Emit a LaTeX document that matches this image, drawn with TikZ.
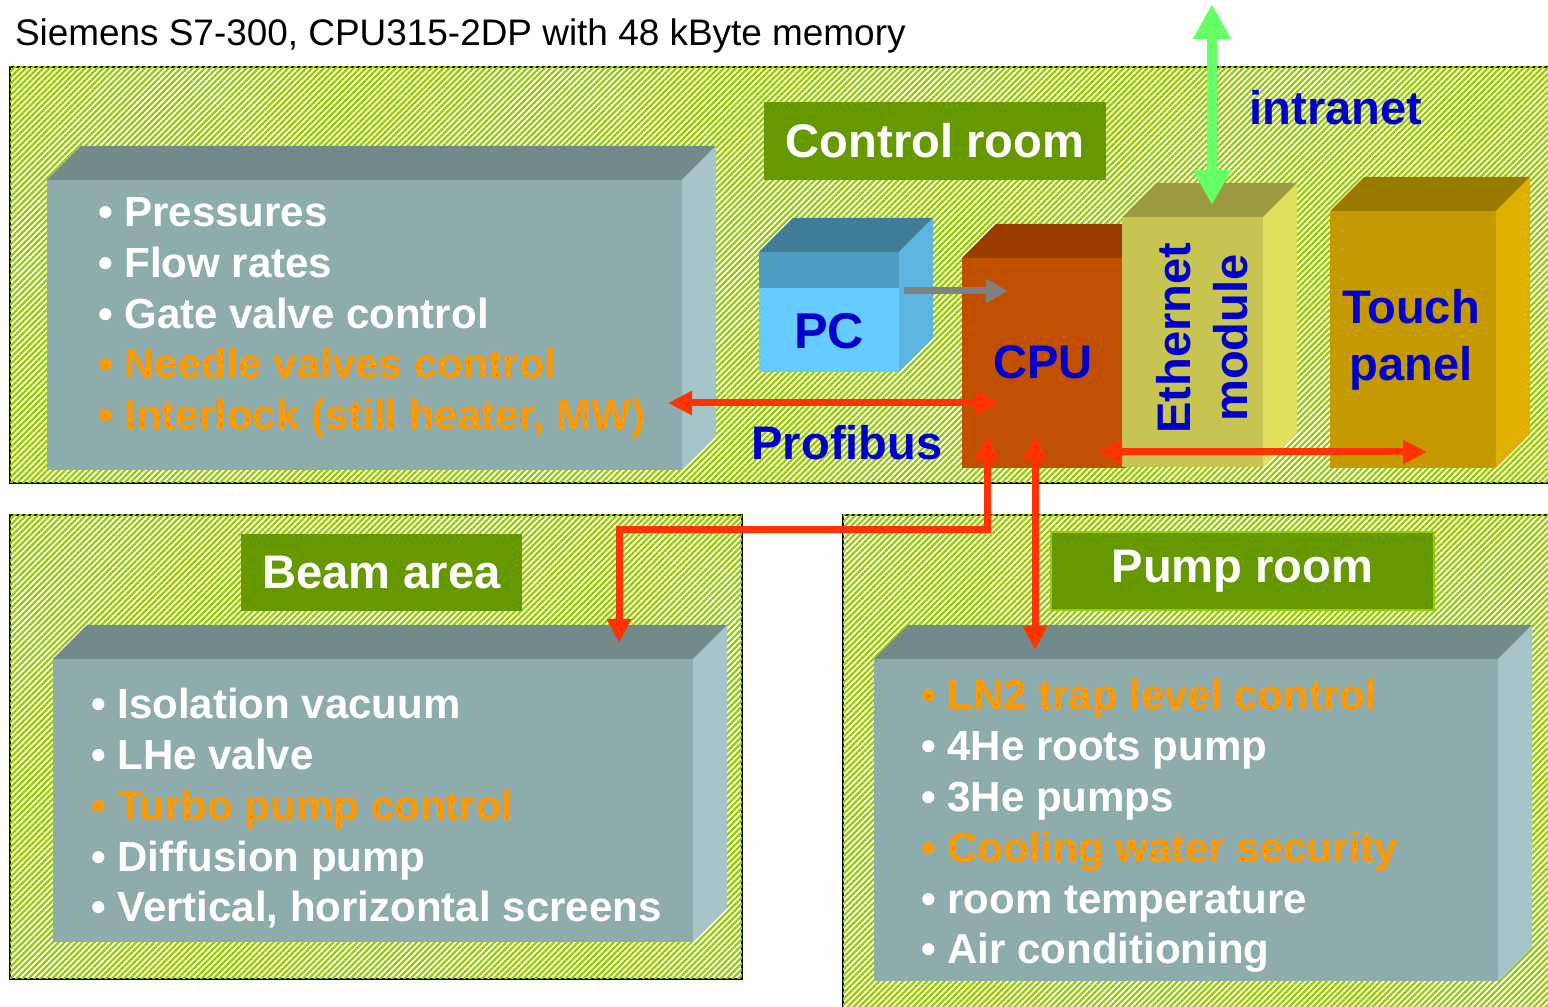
\documentclass[tikz,border=0pt]{standalone}
\usepackage{fontspec}
\setmainfont{Liberation Sans}
\usetikzlibrary{arrows.meta,positioning,fit,patterns.meta,calc}
\definecolor{hatch}{HTML}{99CC00}
\definecolor{tagbg}{HTML}{669900}
\definecolor{slatefront}{HTML}{8FACAC}
\definecolor{slatetop}{HTML}{738A8A}
\definecolor{slateside}{HTML}{A6C5C8}
\definecolor{pcfront}{HTML}{66CCFF}
\definecolor{pcband}{HTML}{4F9CC1}
\definecolor{pctop}{HTML}{3F7C97}
\definecolor{pcside}{HTML}{5CB4E0}
\definecolor{cpufront}{HTML}{C05000}
\definecolor{cputop}{HTML}{993D00}
\definecolor{ethfront}{HTML}{C8C452}
\definecolor{ethtop}{HTML}{9C9A40}
\definecolor{ethside}{HTML}{E0E05C}
\definecolor{tpfront}{HTML}{C49A00}
\definecolor{tptop}{HTML}{9A7A00}
\definecolor{tpside}{HTML}{E0B000}
\definecolor{labelblue}{HTML}{0000CC}
\definecolor{warnorange}{HTML}{FF9900}
\definecolor{busred}{HTML}{FF3300}
\definecolor{netgreen}{HTML}{66FF66}
\definecolor{linkgray}{HTML}{808080}
\newcommand{\bigfont}{\fontsize{13.4}{16.2}\selectfont\bfseries}
\newcommand{\itemfont}{\fontsize{11.95}{14.5}\selectfont\bfseries}
\newcommand{\bul}{\textbullet\ }
% top and right faces of a box whose front face is the node #1
\newcommand{\boxsides}[3]{%
  \fill[#2] (#1.north west) -- ++(34,-34) -- ([shift={(34,-34)}]#1.north east) -- (#1.north east) -- cycle;
  \fill[#3] (#1.north east) -- ++(34,-34) -- ([shift={(34,-34)}]#1.south east) -- (#1.south east) -- cycle;
}
\tikzset{
  every node/.style={inner sep=0pt, outer sep=0pt},
  room/.style={draw=black, line width=0.02cm, fill=white,
               postaction={pattern={Lines[angle=45,distance=1.2pt,line width=0.65pt]}, pattern color=hatch}},
  tag/.style={fill=tagbg},
  tagtxt/.style={text=white, font=\bigfont},
  face/.style={inner sep=0pt},
  items/.style={text=white, font=\itemfont, align=left, anchor=base west},
  bluetxt/.style={text=labelblue, font=\bigfont, align=center},
  busarr/.style={{Triangle[length=0.24cm,width=0.23cm]}-{Triangle[length=0.24cm,width=0.23cm]},
                 line width=0.07cm, draw=busred},
  netarr/.style={{Triangle[length=0.35cm,width=0.36cm]}-{Triangle[length=0.35cm,width=0.36cm]},
                 line width=0.1cm, draw=netgreen},
  linkarr/.style={-{Triangle[length=0.22cm,width=0.23cm]}, line width=0.07cm, draw=linkgray},
}
\begin{document}
\begin{tikzpicture}[x=0.01cm, y=-0.01cm]
\useasboundingbox (0,0) rectangle (1548,1007);
\clip (0,0) rectangle (1548,1007);

\node[anchor=base west, font=\fontsize{10.5}{12}\selectfont] (title) at (15,46)
  {Siemens S7-300, CPU315-2DP with 48 kByte memory};

% rooms
\node[room, fit={(10,67) (1570,483)}] (ctrlroom) {};
\node[room, fit={(10,515) (742,979)}] (beamroom) {};
\node[room, fit={(843,515) (1570,1030)}] (pumproom) {};

\node[tag, fit={(764,102) (1106,180)}] (ctrltag) {};
\node[tagtxt] at (ctrltag) {Control room};
\node[tag, fit={(241,534) (522,611)}] (beamtag) {};
\node[tagtxt] at (beamtag) {Beam area};
\node[tag, draw=hatch, line width=0.025cm, fit={(1051,532) (1434,610)}] (pumptag) {};
\node[tagtxt] at (pumptag) {Pump room};

% signal lists (anchored on the baseline of the last line)
\node[face, fill=slatefront, fit={(47,180) (682,470)}] (ctrlbox) {};
\boxsides{ctrlbox}{slatetop}{slateside}
\node[items] (ctrlitems) at (98,430) {\bul Pressures\\ \bul Flow rates\\ \bul Gate valve control\\
  {\color{warnorange}\bul Needle valves control}\\ {\color{warnorange}\bul Interlock (still heater, MW)}};

\node[face, fill=slatefront, fit={(53,659) (693,942)}] (beambox) {};
\boxsides{beambox}{slatetop}{slateside}
\node[items] (beamitems) at (91,922) {\bul Isolation vacuum\\ \bul LHe valve\\
  {\color{warnorange}\bul Turbo pump control}\\ \bul Diffusion pump\\ \bul Vertical, horizontal screens};

\node[face, fill=slatefront, fit={(874,659) (1498,981)}] (pumpbox) {};
\boxsides{pumpbox}{slatetop}{slateside}
\node[items] (pumpitems) at (921,964) {{\color{warnorange}\bul LN2 trap level control}\\ \bul 4He roots pump\\
  \bul 3He pumps\\ {\color{warnorange}\bul Cooling water security}\\ \bul room temperature\\ \bul Air conditioning};

% hardware
\node[face, fill=pcfront, fit={(759,252) (899,372)}] (pc) {};
\boxsides{pc}{pctop}{pcside}
\fill[pcband] (pc.north west) rectangle ($(pc.north east)+(0,36)$);
\node[bluetxt, font=\fontsize{14.3}{16}\selectfont\bfseries] (pclabel) at (829,331) {PC};

\node[face, fill=cpufront, fit={(962,258) (1126,468)}] (cpu) {};
\boxsides{cpu}{cputop}{cputop}
\node[bluetxt] (cpulabel) at (1043,362) {CPU};

\node[face, fill=ethfront, fit={(1122,217) (1263,467)}] (eth) {};
\boxsides{eth}{ethtop}{ethside}
\node[bluetxt, rotate=90] (ethlabel) at (1202,338) {Ethernet\\module};

\node[face, fill=tpfront, fit={(1330,211) (1496,468)}] (touch) {};
\boxsides{touch}{tptop}{tpside}
\node[bluetxt] (touchlabel) at (1411,340) {Touch\\panel};

% connections
\coordinate (netT) at (1212,4);
\coordinate (netB) at (1212,205);
\coordinate (pcR) at (904,291);
\coordinate (cpuL) at (1008,291);
\coordinate (pbL) at (668,403);
\coordinate (pbR) at (999,403);
\coordinate (ethL) at (1098,452);
\coordinate (touchR) at (1427,452);
\coordinate (cpuB1) at (987,436);
\coordinate (beamT) at (619,643);
\coordinate (cpuB2) at (1035,436);
\coordinate (pumpT) at (1035,650);

\draw[netarr] (netT) -- (netB);
\draw[linkarr] (pcR) -- (cpuL);
\draw[busarr] (pbL) -- (pbR);
\draw[busarr] (ethL) -- (touchR);
\draw[busarr] (cpuB1) -- ++(0,94) -| (beamT);
\draw[busarr] (cpuB2) -- (pumpT);

\node[bluetxt, anchor=base] (intranet) at (1336,125) {intranet};
\node[bluetxt, anchor=base] (profibus) at (847,460) {Profibus};

\end{tikzpicture}
\end{document}
